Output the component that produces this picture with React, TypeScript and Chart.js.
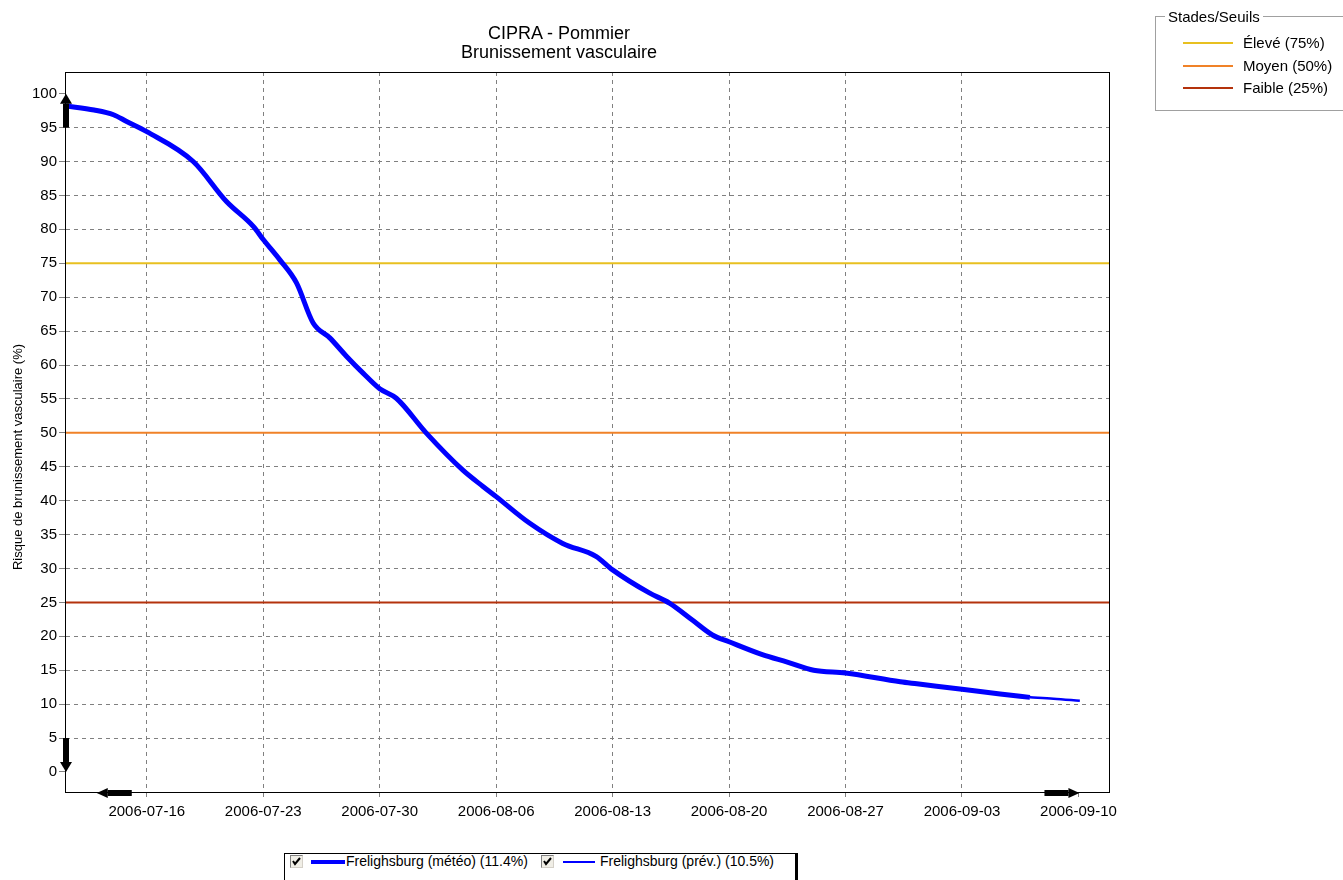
import React, { useEffect, useRef } from 'react';
import { Chart, registerables } from 'chart.js';

Chart.register(...registerables);

const BASE_DATE = '2006-07-16 00:00';
const X_MIN_DATE = '2006-07-11 03:30';
const X_MAX_DATE = '2006-09-11 21:30';

const TICK_LABELS = [
  '2006-07-16', '2006-07-23', '2006-07-30', '2006-08-06', '2006-08-13',
  '2006-08-20', '2006-08-27', '2006-09-03', '2006-09-10',
];
const Y_TICKS = [0, 5, 10, 15, 20, 25, 30, 35, 40, 45, 50, 55, 60, 65, 70, 75, 80, 85, 90, 95, 100];
const Y_MIN = -3.1;
const Y_MAX = 103.2;

const METEO_DATES = [
  '2006-07-11 03:30', '2006-07-12 20:00', '2006-07-14 00:00', '2006-07-14 19:00',
  '2006-07-16 00:00', '2006-07-18 19:00', '2006-07-20 19:00', '2006-07-22 10:00',
  '2006-07-23 00:00', '2006-07-24 00:00', '2006-07-25 00:00', '2006-07-26 00:00',
  '2006-07-27 00:00', '2006-07-28 00:00', '2006-07-29 00:00', '2006-07-30 00:00',
  '2006-07-31 00:00', '2006-08-01 19:00', '2006-08-04 00:00', '2006-08-05 05:00',
  '2006-08-06 00:00', '2006-08-08 00:00', '2006-08-10 00:00', '2006-08-12 00:00',
  '2006-08-13 00:00', '2006-08-15 05:00', '2006-08-16 10:00', '2006-08-17 19:00',
  '2006-08-19 00:00', '2006-08-20 00:00', '2006-08-22 00:00', '2006-08-23 12:00',
  '2006-08-25 02:00', '2006-08-27 00:00', '2006-08-30 07:00', '2006-08-31 07:00',
  '2006-09-03 00:00', '2006-09-05 07:00', '2006-09-07 02:00',
];
const METEO_VALUES = [
  98.2, 97.6, 96.9, 95.9,
  94.4, 90.0, 84.1, 80.4,
  78.5, 75.5, 72.1, 66.2,
  64.0, 61.3, 58.8, 56.5,
  55.1, 50.0, 44.5, 42.1,
  40.6, 36.7, 33.7, 31.8,
  29.8, 26.4, 24.9, 22.4,
  20.2, 19.2, 17.3, 16.2,
  15.0, 14.6, 13.3, 13.0,
  12.2, 11.5, 11.0,
];
const PREV_DATES = ['2006-09-07 02:00', '2006-09-08 12:00', '2006-09-10 02:00'];
const PREV_VALUES = [11.0, 10.8, 10.5];

const SERIES_LABELS = ['Frelighsburg (météo) (11.4%)', 'Frelighsburg (prév.) (10.5%)'];
const SERIES_COLOR = '#0000ff';

const THRESHOLD_TITLE = 'Stades/Seuils';
const THRESHOLD_LABELS = ['Élevé (75%)', 'Moyen (50%)', 'Faible (25%)'];
const THRESHOLD_VALUES = [75, 50, 25];
const THRESHOLD_COLORS = ['#e8c020', '#f08228', '#b4320c'];

const TITLE_LINES = ['CIPRA - Pommier', 'Brunissement vasculaire'];
const Y_TITLE = 'Risque de brunissement vasculaire (%)';

const FONT = '"Liberation Sans", Arial, sans-serif';

function toDay(s: string): number {
  const parse = (v: string) => {
    const [d, t] = v.split(' ');
    const [Y, M, D] = d.split('-').map(Number);
    const [h, m] = (t || '00:00').split(':').map(Number);
    return Date.UTC(Y, M - 1, D, h, m);
  };
  return (parse(s) - parse(BASE_DATE)) / 86400000;
}

const frameAndArrows = {
  id: 'frameAndArrows',
  afterDatasetsDraw(chart: any) {
    const { ctx, chartArea, scales } = chart;
    const { left, top, right, bottom } = chartArea;
    ctx.save();
    ctx.strokeStyle = '#000';
    ctx.lineWidth = 1;
    ctx.strokeRect(Math.round(left) - 0.5, Math.round(top) + 0.5, Math.round(right - left), Math.round(bottom - top) - 1);

    ctx.fillStyle = '#000';
    const y = scales.y;
    const x = scales.x;
    const vArrow = (cx: number, yFrom: number, yTo: number) => {
      const dir = yTo < yFrom ? -1 : 1;
      const head = 10;
      ctx.fillRect(cx - 3, Math.min(yFrom, yTo + -dir * head), 6, Math.abs(yTo - yFrom) - head);
      ctx.beginPath();
      ctx.moveTo(cx - 6, yTo - dir * head);
      ctx.lineTo(cx + 6, yTo - dir * head);
      ctx.lineTo(cx, yTo);
      ctx.closePath();
      ctx.fill();
    };
    const hArrow = (cy: number, xFrom: number, xTo: number) => {
      const dir = xTo < xFrom ? -1 : 1;
      const head = 11;
      const a = xFrom;
      const b = xTo - dir * head;
      ctx.fillRect(Math.min(a, b), cy - 3, Math.abs(b - a), 6);
      ctx.beginPath();
      ctx.moveTo(b, cy - 5);
      ctx.lineTo(b, cy + 5);
      ctx.lineTo(xTo, cy);
      ctx.closePath();
      ctx.fill();
    };
    const lx = Math.round(left);
    vArrow(lx, y.getPixelForValue(95), y.getPixelForValue(100));
    vArrow(lx, y.getPixelForValue(5), y.getPixelForValue(0));
    const firstTick = x.getPixelForValue(toDay(TICK_LABELS[0]));
    const lastTick = x.getPixelForValue(toDay(TICK_LABELS[TICK_LABELS.length - 1]));
    hArrow(Math.round(bottom), firstTick - 15, firstTick - 50);
    hArrow(Math.round(bottom), lastTick - 34, lastTick + 1);

    ctx.translate(18, 457);
    ctx.rotate(-Math.PI / 2);
    ctx.font = '13px ' + FONT;
    ctx.textAlign = 'center';
    ctx.textBaseline = 'middle';
    ctx.fillText(Y_TITLE, 0, 0);
    ctx.restore();
  },
};

function CheckBox({ left, top }: { left: number; top: number }) {
  return (
    <div
      style={{
        position: 'absolute', left, top, width: 11, height: 11,
        borderTop: '1px solid #808080', borderLeft: '1px solid #808080',
        borderRight: '1px solid #d4d0c8', borderBottom: '1px solid #d4d0c8',
        background: '#f0eee6',
      }}
    >
      <svg width="11" height="11" style={{ position: 'absolute', left: 0, top: 0 }}>
        <polyline points="2,5 4,8 9,2" fill="none" stroke="#000" strokeWidth="2" />
      </svg>
    </div>
  );
}

export default function App() {
  const ref = useRef<HTMLCanvasElement>(null);

  useEffect(() => {
    if (!ref.current) return;
    const xMin = toDay(X_MIN_DATE);
    const xMax = toDay(X_MAX_DATE);
    const lastIdx = TICK_LABELS.length - 1;

    const chart = new Chart(ref.current, {
      type: 'line',
      data: {
        datasets: [
          {
            label: SERIES_LABELS[0],
            data: METEO_DATES.map((d, i) => ({ x: toDay(d), y: METEO_VALUES[i] })),
            borderColor: SERIES_COLOR,
            borderWidth: 5,
            pointRadius: 0,
            cubicInterpolationMode: 'monotone',
          },
          {
            label: SERIES_LABELS[1],
            data: PREV_DATES.map((d, i) => ({ x: toDay(d), y: PREV_VALUES[i] })),
            borderColor: SERIES_COLOR,
            borderWidth: 2.5,
            pointRadius: 0,
            cubicInterpolationMode: 'monotone',
          },
          ...THRESHOLD_VALUES.map((v, i) => ({
            label: THRESHOLD_LABELS[i],
            data: [{ x: xMin, y: v }, { x: xMax, y: v }],
            borderColor: THRESHOLD_COLORS[i],
            borderWidth: 2,
            pointRadius: 0,
          })),
        ],
      },
      options: {
        responsive: false,
        animation: false,
        parsing: false as any,
        layout: { padding: { left: 0, right: 233, top: 72, bottom: 47 } },
        plugins: {
          legend: { display: false },
          title: { display: false },
          tooltip: { enabled: false },
        },
        scales: {
          x: {
            type: 'linear',
            min: xMin,
            max: xMax,
            afterBuildTicks: (scale: any) => {
              scale.ticks = TICK_LABELS.map((t) => ({ value: toDay(t) }));
            },
            afterFit: (scale: any) => { scale.height = 40; },
            ticks: {
              autoSkip: false,
              maxRotation: 0,
              padding: 3,
              color: '#000',
              font: { family: FONT, size: 15 },
              callback: (_v: any, i: number) => TICK_LABELS[i],
            },
            grid: {
              color: (c: any) => (c.index === lastIdx ? 'rgba(0,0,0,0)' : '#808080'),
              tickColor: '#808080',
              tickLength: 7,
              tickBorderDash: [4, 4],
              lineWidth: 1,
            },
            border: { display: false, dash: [4, 4] },
          },
          y: {
            type: 'linear',
            min: Y_MIN,
            max: Y_MAX,
            afterBuildTicks: (scale: any) => {
              scale.ticks = Y_TICKS.map((v) => ({ value: v }));
            },
            afterFit: (scale: any) => { scale.width = 66; },
            ticks: {
              padding: 2,
              color: '#000',
              font: { family: FONT, size: 15 },
              callback: (v: any) => String(v),
            },
            grid: {
              color: (c: any) => (c.tick && (c.tick.value === 0 || c.tick.value === 100) ? 'rgba(0,0,0,0)' : '#808080'),
              tickColor: '#808080',
              tickLength: 7,
              lineWidth: 1,
            },
            border: { display: false, dash: [4, 4] },
          },
        },
      },
      plugins: [frameAndArrows],
    } as any);
    return () => chart.destroy();
  }, []);

  return (
    <div
      style={{
        position: 'absolute', left: 0, top: 0, width: 1343, height: 880,
        overflow: 'hidden', background: '#fff', fontFamily: FONT, color: '#000',
      }}
    >
      <canvas ref={ref} width={1343} height={880} style={{ position: 'absolute', left: 0, top: 0, width: 1343, height: 880 }} />
      <div
        style={{
          position: 'absolute', left: 0, top: 24, width: 1118, textAlign: 'center',
          fontSize: 18, lineHeight: '19px',
        }}
      >
        {TITLE_LINES.map((t) => (<div key={t}>{t}</div>))}
      </div>

      <div
        style={{
          position: 'absolute', left: 1155, top: 16, width: 200, height: 93,
          border: '1px solid #a0a0a0', boxShadow: 'inset 1px 1px 0 #fff',
        }}
      />
      <div
        style={{
          position: 'absolute', left: 1165, top: 8, padding: '0 3px', background: '#fff',
          fontSize: 15, lineHeight: '18px', whiteSpace: 'nowrap',
        }}
      >
        {THRESHOLD_TITLE}
      </div>
      {THRESHOLD_LABELS.map((lbl, i) => {
        const cy = 43 + i * 22.5;
        return (
          <React.Fragment key={lbl}>
            <div style={{ position: 'absolute', left: 1183, top: cy - 1, width: 50, height: 2, background: THRESHOLD_COLORS[i] }} />
            <div style={{ position: 'absolute', left: 1243, top: cy - 9, fontSize: 15, lineHeight: '18px', whiteSpace: 'nowrap' }}>{lbl}</div>
          </React.Fragment>
        );
      })}

      <div
        style={{
          position: 'absolute', left: 284, top: 853, width: 510, height: 40,
          borderTop: '1px solid #000', borderLeft: '1px solid #000', borderRight: '3px solid #000',
          background: '#fff',
        }}
      />
      <CheckBox left={290} top={855} />
      <div style={{ position: 'absolute', left: 311, top: 860, width: 34, height: 4, background: SERIES_COLOR }} />
      <div style={{ position: 'absolute', left: 346, top: 853, fontSize: 14, lineHeight: '17px', whiteSpace: 'nowrap' }}>{SERIES_LABELS[0]}</div>
      <CheckBox left={541} top={855} />
      <div style={{ position: 'absolute', left: 563, top: 861, width: 32, height: 2, background: SERIES_COLOR }} />
      <div style={{ position: 'absolute', left: 600, top: 853, fontSize: 14, lineHeight: '17px', whiteSpace: 'nowrap' }}>{SERIES_LABELS[1]}</div>
    </div>
  );
}
